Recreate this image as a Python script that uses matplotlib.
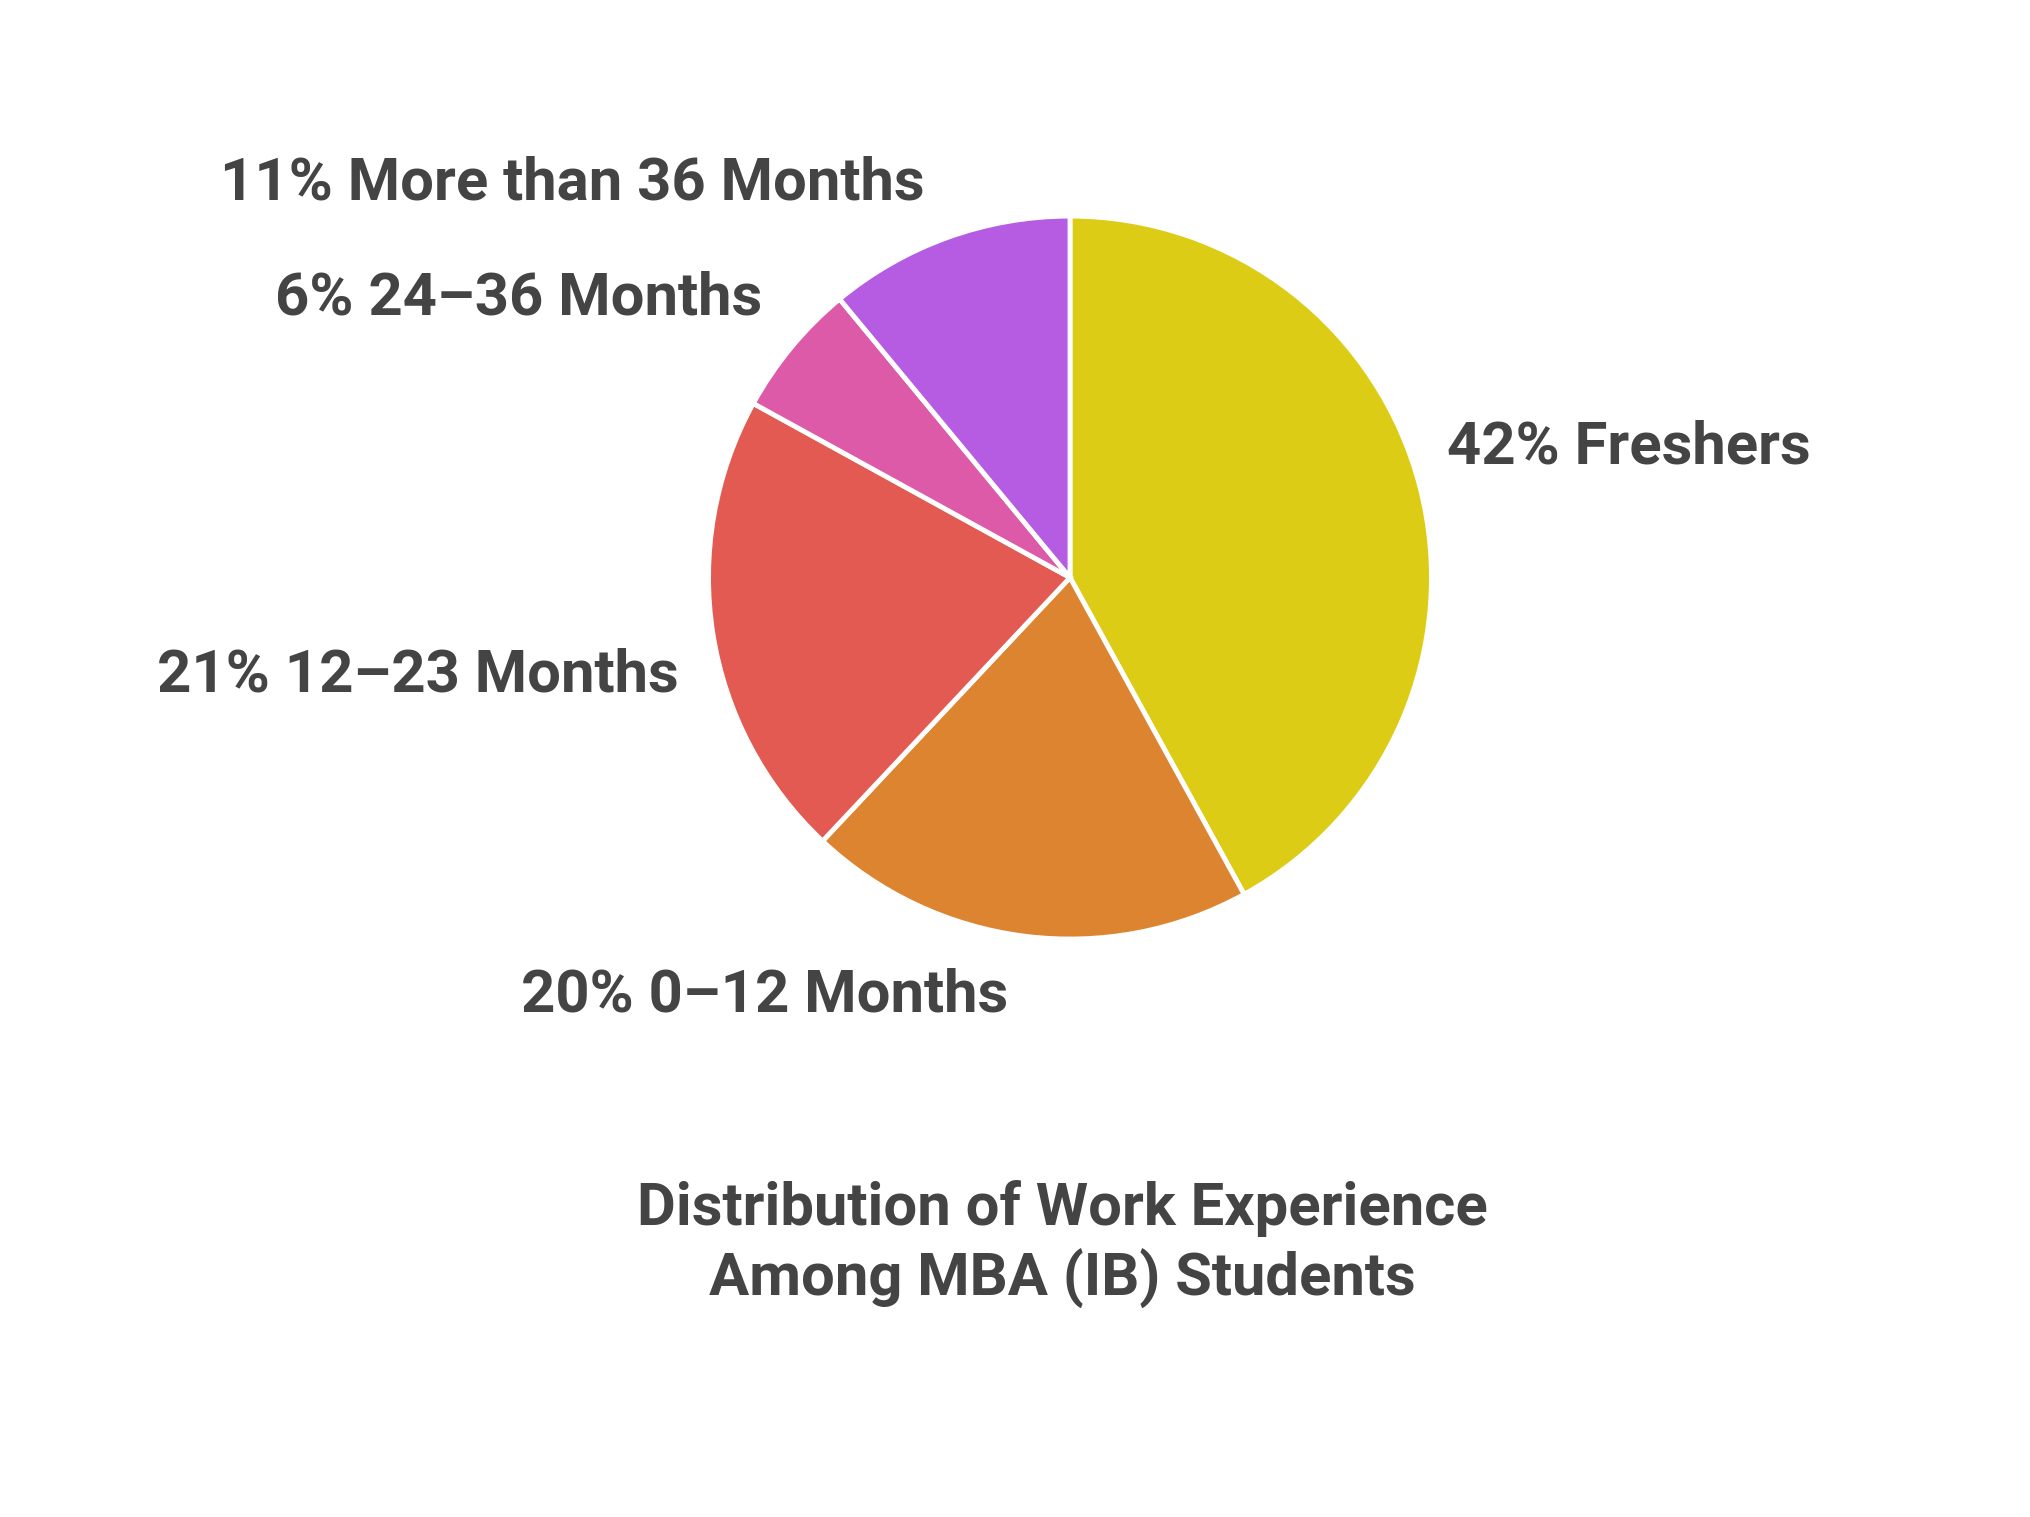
import matplotlib.pyplot as plt

labels = ['42% Freshers', '20% 0\u201312 Months', '21% 12\u201323 Months',
          '6% 24\u201336 Months', '11% More than 36 Months']
values = [42, 20, 21, 6, 11]
colors = ['#DDCC16', '#DD8430', '#E35A52', '#DD5AA8', '#B55CE3']
title = 'Distribution of Work Experience\nAmong MBA (IB) Students'

W, H = 2030, 1517
fig = plt.figure(figsize=(W / 100, H / 100), dpi=100)
plt.rcParams['font.family'] = ['Roboto', 'DejaVu Sans']

s = W / 1550
cx, cy, r = 817 * s, 441 * s, 276 * s
ax = fig.add_axes([(cx - r) / W, 1 - (cy + r) / H, 2 * r / W, 2 * r / H])
ax.pie(values, colors=colors, startangle=90, counterclock=False, radius=1,
       wedgeprops=dict(edgecolor='white', linewidth=3.5))
ax.set_xlim(-1, 1)
ax.set_ylim(-1, 1)
ax.set_aspect('equal')
ax.axis('off')

# label anchor points (left edge, vertical centre) in display px of the reference
label_pos = [(1105, 342), (398, 760), (120, 516), (210, 228), (168, 140)]
for lab, (x, y) in zip(labels, label_pos):
    fig.text(x * s / W, 1 - y * s / H, lab, ha='left', va='center',
             fontsize=43, fontweight='bold', color='#444444')

fig.text(811 * s / W, 1 - 950 * s / H, title, ha='center', va='center',
         fontsize=43, fontweight='bold', color='#444444', linespacing=1.25)

fig.savefig('out.png', dpi=100, facecolor='white')
